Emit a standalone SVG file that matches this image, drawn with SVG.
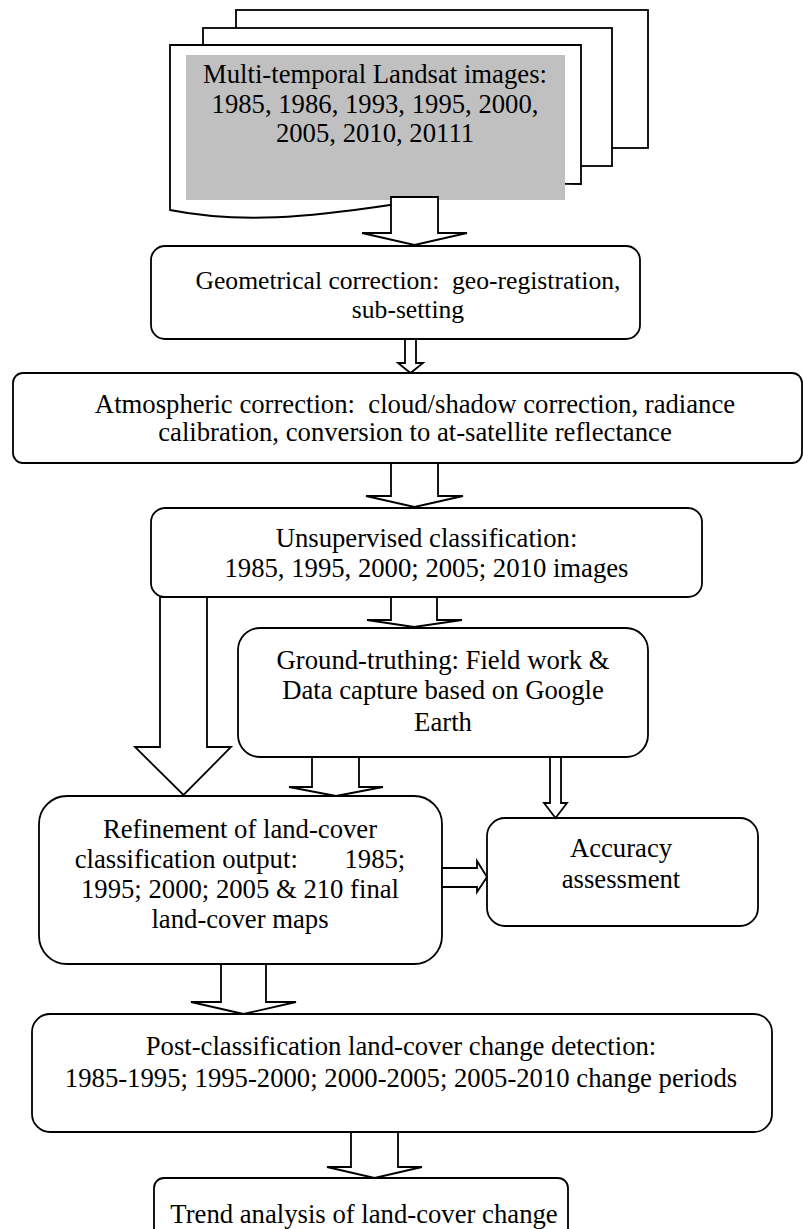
<svg xmlns="http://www.w3.org/2000/svg" width="803" height="1229" viewBox="0 0 803 1229">
<style>
.b{fill:#fff;stroke:#000;stroke-width:1.8}
.a{fill:#fff;stroke:#000;stroke-width:1.8;stroke-linejoin:miter}
text{font-family:"Liberation Serif","Times New Roman",serif;font-size:26.7px;fill:#000;text-anchor:middle;white-space:pre}
.s{font-size:25.6px}
</style>
<rect width="803" height="1229" fill="#fff"/>
<g id="doc">
<rect class="b" x="236" y="10" width="412" height="138"/>
<rect class="b" x="203" y="28" width="409" height="138"/>
<path class="b" d="M170,210 V45 H581 V184 C500,182 450,196 390,205 C310,217 240,224 170,210 Z"/>
<rect x="186" y="55" width="379" height="145" fill="#c0c0c0"/>
<text x="375" y="83" xml:space="preserve">Multi-temporal Landsat images:</text>
<text x="375" y="113" xml:space="preserve">1985, 1986, 1993, 1995, 2000,</text>
<text x="375" y="142" xml:space="preserve">2005, 2010, 20111</text>
</g>
<g id="geometrical">
<rect class="b" x="151" y="246" width="489" height="93" rx="14"/>
<text class="s" x="408" y="289" xml:space="preserve">Geometrical correction:  geo-registration,</text>
<text class="s" x="408" y="318" xml:space="preserve">sub-setting</text>
</g>
<g id="atmospheric">
<rect class="b" x="13" y="373" width="789" height="90" rx="10"/>
<text x="415" y="413" xml:space="preserve">Atmospheric correction:  cloud/shadow correction, radiance</text>
<text x="415" y="441" xml:space="preserve">calibration, conversion to at-satellite reflectance</text>
</g>
<g id="unsupervised">
<rect class="b" x="151" y="508" width="551" height="89" rx="14"/>
<text x="426.5" y="547" xml:space="preserve">Unsupervised classification:</text>
<text x="426.5" y="577" xml:space="preserve">1985, 1995, 2000; 2005; 2010 images</text>
</g>
<g id="groundtruthing">
<rect class="b" x="238" y="628" width="410" height="129" rx="22"/>
<text x="443" y="669" xml:space="preserve">Ground-truthing: Field work &amp;</text>
<text x="443" y="699" xml:space="preserve">Data capture based on Google</text>
<text x="443" y="731" xml:space="preserve">Earth</text>
</g>
<g id="refinement">
<rect class="b" x="39" y="796" width="403" height="168" rx="28"/>
<text x="240" y="838" xml:space="preserve">Refinement of land-cover</text>
<text x="240" y="868" xml:space="preserve">classification output:       1985;</text>
<text x="240" y="898" xml:space="preserve">1995; 2000; 2005 &amp; 210 final</text>
<text x="240" y="928" xml:space="preserve">land-cover maps</text>
</g>
<g id="accuracy">
<rect class="b" x="487" y="818" width="271" height="108" rx="18"/>
<text x="621" y="857" xml:space="preserve">Accuracy</text>
<text x="621" y="888" xml:space="preserve">assessment</text>
</g>
<g id="postclassification">
<rect class="b" x="32" y="1014" width="740" height="118" rx="18"/>
<text x="401" y="1055" xml:space="preserve">Post-classification land-cover change detection:</text>
<text x="401" y="1087" xml:space="preserve">1985-1995; 1995-2000; 2000-2005; 2005-2010 change periods</text>
</g>
<g id="trend">
<rect class="b" x="154" y="1178" width="414" height="70" rx="10"/>
<text x="364" y="1223" xml:space="preserve">Trend analysis of land-cover change</text>
</g>
<g id="connectors">
<polygon class="a" points="391,197 438,197 438,233 467,233 414.5,245 362,233 391,233"/>
<polygon class="a" points="405,339 416,339 416,363 423,363 410.5,373 398,363 405,363"/>
<polygon class="a" points="391,463 438,463 438,496 463,496 414.5,507 366,496 391,496"/>
<polygon class="a" points="391,597 437,597 437,620 462,620 414,627 367,620 391,620"/>
<polygon class="a" points="160,597 207,597 207,747 231,747 183.5,795 135,747 160,747"/>
<polygon class="a" points="312,757 359,757 359,787 383,787 336,796 289,787 312,787"/>
<polygon class="a" points="550,757 561,757 561,803 567,803 555.5,818 544,803 550,803"/>
<polygon class="a" points="442,868 477,868 477,861 487,877 477,892 477,887 442,887"/>
<polygon class="a" points="221,964 266,964 266,1002 296,1002 243.5,1014 191,1002 221,1002"/>
<polygon class="a" points="351,1132 398,1132 398,1167 422,1167 374.5,1178 327,1167 351,1167"/>
</g>
</svg>
